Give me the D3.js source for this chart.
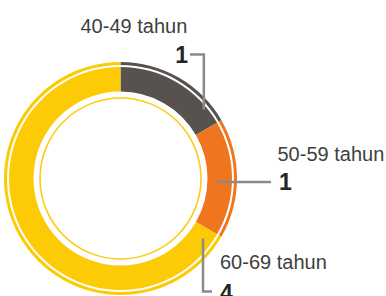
<!DOCTYPE html>
<html>
<head>
<meta charset="utf-8">
<script src="https://cdn.jsdelivr.net/npm/d3@7"></script>
<style>
  body { margin: 0; background: #fff; }
  svg { display: block; font-family: "Liberation Sans", Arial, sans-serif; }
</style>
</head>
<body>
<svg width="386" height="296"></svg>
<script>
var svg = d3.select("svg"),
  width = +svg.attr("width"),
  height = +svg.attr("height");

// data
const categories = ["40-49 tahun", "50-59 tahun", "60-69 tahun"];
const values = [1, 1, 4];
const colors = ["#58524f", "#ef761f", "#fdcb06"];

// where the annotations sit (label x/y, number x/y, leader angle & radius, elbow)
const labelLayout = [
  {lx: 80.5, ly: 33, nx: 188, ny: 62.5, nAnchor: "end", angle: 50.5, r: 108, path: "up-left"},
  {lx: 277.5, ly: 160.5, nx: 279, ny: 190, nAnchor: "start", angle: 92, r: 97, path: "right"},
  {lx: 220, ly: 269, nx: 220, ny: 301, nAnchor: "start", angle: 126, r: 102, path: "down-right"}
];

const cx = 120.5, cy = 178.5;

const g = svg.append("g").attr("transform", `translate(${cx},${cy})`);

const pie = d3.pie().sort(null).value(d => d);
const arcs = pie(values);

const band = d3.arc().innerRadius(87).outerRadius(111.5);
const rim = d3.arc().innerRadius(113.5).outerRadius(116.5);

g.selectAll("path.band").data(arcs)
  .enter().append("path")
  .attr("class", "band")
  .attr("d", band)
  .attr("fill", (d, i) => colors[i]);

g.selectAll("path.rim").data(arcs)
  .enter().append("path")
  .attr("class", "rim")
  .attr("d", rim)
  .attr("fill", (d, i) => colors[i]);

// thin inner circle
g.append("circle")
  .attr("r", 80.5)
  .attr("fill", "none")
  .attr("stroke", colors[2])
  .attr("stroke-width", 1.5);

// leader lines
const lines = svg.append("g");
labelLayout.forEach((L, i) => {
  const a = L.angle * Math.PI / 180;
  const px = cx + L.r * Math.sin(a), py = cy - L.r * Math.cos(a);
  let pts;
  if (L.path == "up-left") {
    pts = [[px, py], [px, L.ny - 8], [L.nx + 2, L.ny - 8]];
  } else if (L.path == "right") {
    pts = [[px, py], [L.nx - 8, py]];
  } else {
    pts = [[px, py], [px, 291.5], [L.nx - 8, 291.5]];
  }
  lines.append("polyline")
    .attr("points", pts.map(p => p.join(",")).join(" "))
    .attr("fill", "none")
    .attr("stroke", "#8a8a8a")
    .attr("stroke-width", 2.5);
});

// labels
svg.selectAll("text.cat").data(categories)
  .enter().append("text")
  .attr("class", "cat")
  .attr("x", (d, i) => labelLayout[i].lx)
  .attr("y", (d, i) => labelLayout[i].ly)
  .attr("fill", "#404040")
  .style("font-size", "20px")
  .text(d => d);

svg.selectAll("text.num").data(values)
  .enter().append("text")
  .attr("class", "num")
  .attr("x", (d, i) => labelLayout[i].nx)
  .attr("y", (d, i) => labelLayout[i].ny)
  .attr("text-anchor", (d, i) => labelLayout[i].nAnchor)
  .attr("fill", "#262626")
  .style("font-size", "23px")
  .style("font-weight", "bold")
  .text(d => d);
</script>
</body>
</html>
